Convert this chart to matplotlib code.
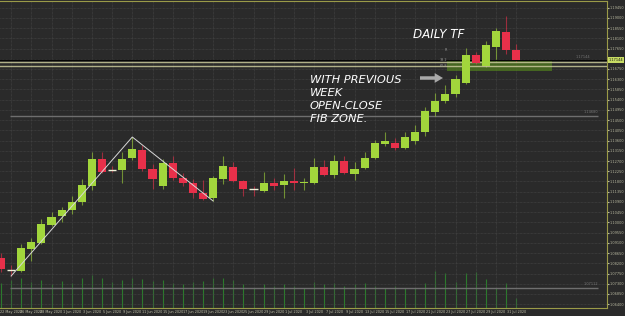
import matplotlib.pyplot as plt
import matplotlib.transforms as mtransforms
import numpy as np

# daily candles, 21 May - 31 Jul 2020
opens = [1.08432, 1.07904, 1.07860, 1.08828, 1.09092, 1.09884, 1.10280, 1.10544, 1.10896, 1.11600,
         1.12788, 1.12304, 1.12304, 1.12832, 1.13184, 1.12348, 1.11600, 1.12612, 1.11952, 1.11732,
         1.11292, 1.11072, 1.11908, 1.12436, 1.11820, 1.11468, 1.11380, 1.11732, 1.11644, 1.11820,
         1.11732, 1.11732, 1.12436, 1.12084, 1.12700, 1.12128, 1.12392, 1.12832, 1.13448, 1.13492,
         1.13272, 1.13580, 1.13976, 1.14856, 1.15340, 1.15648, 1.16132, 1.17364, 1.16880, 1.17716,
         1.18376, 1.17584]
highs = [1.08652, 1.08124, 1.09048, 1.09312, 1.10148, 1.10456, 1.10676, 1.11160, 1.11908, 1.13096,
         1.13096, 1.12480, 1.13096, 1.13756, 1.13404, 1.12568, 1.12788, 1.12920, 1.12172, 1.11908,
         1.11864, 1.12040, 1.12920, 1.12656, 1.11864, 1.11600, 1.12216, 1.11952, 1.12128, 1.12392,
         1.11952, 1.12832, 1.12744, 1.12964, 1.12920, 1.12656, 1.13096, 1.13624, 1.13976, 1.13712,
         1.13976, 1.14284, 1.15076, 1.15692, 1.16044, 1.16484, 1.17672, 1.17496, 1.17980, 1.18552,
         1.19080, 1.17848]
lows = [1.07816, 1.07640, 1.07816, 1.08300, 1.09048, 1.09840, 1.10016, 1.10368, 1.10764, 1.11424,
        1.12172, 1.12216, 1.11732, 1.12744, 1.12260, 1.11468, 1.11468, 1.11864, 1.11600, 1.11072,
        1.10984, 1.10940, 1.11688, 1.11776, 1.11160, 1.11160, 1.11336, 1.11424, 1.11072, 1.11424,
        1.11424, 1.11688, 1.12040, 1.11952, 1.12128, 1.11864, 1.12348, 1.12788, 1.13360, 1.13184,
        1.13228, 1.13448, 1.13800, 1.14680, 1.15252, 1.15516, 1.16088, 1.16968, 1.16836, 1.17100,
        1.17408, 1.17056]
closes = [1.07948, 1.07904, 1.08872, 1.09136, 1.09928, 1.10236, 1.10544, 1.10896, 1.11644, 1.12788,
          1.12216, 1.12304, 1.12788, 1.13228, 1.12348, 1.11908, 1.12612, 1.11952, 1.11732, 1.11292,
          1.11028, 1.11952, 1.12480, 1.11820, 1.11468, 1.11468, 1.11732, 1.11600, 1.11820, 1.11732,
          1.11776, 1.12436, 1.12084, 1.12700, 1.12172, 1.12348, 1.12832, 1.13492, 1.13580, 1.13272,
          1.13756, 1.13976, 1.14900, 1.15340, 1.15648, 1.16308, 1.17364, 1.17012, 1.17804, 1.18420,
          1.17584, 1.17144]
volumes = [100, 112, 120, 104, 112, 96, 108, 100, 120, 132,
           120, 104, 112, 120, 116, 108, 112, 100, 96, 104,
           108, 120, 120, 112, 96, 80, 96, 88, 96, 88,
           80, 104, 96, 100, 88, 96, 100, 88, 80, 88,
           80, 80, 100, 148, 140, 104, 140, 144, 116, 80,
           100, 40]

date_idx = [1, 3, 5, 7, 9, 11, 13, 15, 17, 19, 21, 23, 25, 27, 29, 31, 33, 35, 37, 39, 41, 43, 45, 47, 49, 51]
date_labels = ['22 May 2020', '26 May 2020', '28 May 2020', '1 Jun 2020', '3 Jun 2020', '5 Jun 2020',
               '9 Jun 2020', '11 Jun 2020', '15 Jun 2020', '17 Jun 2020', '19 Jun 2020', '23 Jun 2020',
               '25 Jun 2020', '29 Jun 2020', '1 Jul 2020', '3 Jul 2020', '7 Jul 2020', '9 Jul 2020',
               '13 Jul 2020', '15 Jul 2020', '17 Jul 2020', '21 Jul 2020', '23 Jul 2020', '27 Jul 2020',
               '29 Jul 2020', '31 Jul 2020']

zigzag_idx = [1, 13, 21]
zigzag_px = [1.07640, 1.13756, 1.10940]

zone_top = 1.17144
zone_lines = [1.17056, 1.16880]
zone_bottom = 1.16660
zone_start, zone_end = 44.2, 54.6
grey_levels = [1.14680, 1.07112]

BG = '#2a2a2a'
AXC = '#9a9a48'
UP = '#a2d63c'
DN = '#e8304a'
SMALL = ['Liberation Sans Narrow', 'DejaVu Sans']

fig = plt.figure(figsize=(6.25, 3.16), dpi=100, facecolor=BG)
ax = fig.add_axes([0, 8/316, 607/625, 307/316], facecolor=BG)

o = np.array(opens); c = np.array(closes); h = np.array(highs); l = np.array(lows)
x = np.arange(len(o))
cols = np.where(c > o, UP, DN)

# volume histogram in the bottom strip
ax2 = ax.twinx()
ax2.vlines(x, 0, volumes, color='#2b7a2c', lw=0.8)
ax2.set_ylim(0, 1228)
ax2.axis('off')

ax.set_zorder(ax2.get_zorder() + 1)
ax.patch.set_visible(False)
fig.patches.append(plt.Rectangle((0, 8/316), 607/625, 307/316, transform=fig.transFigure,
                                 facecolor=BG, zorder=-10))

ax.vlines(x, l, h, color=cols, lw=0.8, alpha=0.6, zorder=3)
body = c != o
ax.bar(x[body], np.abs(c - o)[body], bottom=np.minimum(o, c)[body], width=0.8,
       color=cols[body], zorder=4)
ax.hlines(o[~body], x[~body] - 0.4, x[~body] + 0.4, color='#f0f0d8', lw=1, zorder=4)

ax.plot(zigzag_idx, zigzag_px, color='#d8d8d8', lw=0.7, zorder=5)

# fib zone
ax.axhspan(zone_bottom, zone_top, xmin=(zone_start + 0.1) / 60.1, xmax=(zone_end + 0.1) / 60.1,
           color='#4f7a1e', alpha=0.75, lw=0, zorder=2)
ax.axhline(zone_top, color='#050505', lw=1.0, zorder=3)
for z in zone_lines:
    ax.axhline(z, color='#c8c89a', lw=1.0, alpha=0.85, zorder=3)
for g in grey_levels:
    ax.hlines(g, 0.9, 59.1, color='#6e6e6e', lw=1.0, zorder=2)
    ax.text(59.1, g + 0.0007, f'{g:.5f}', fontsize=2.5, color='#777777', ha='right', va='bottom',
            family=SMALL)
ax.text(58.3, zone_top + 0.0005, f'{zone_top:.5f}', fontsize=2.5, color='#777777', ha='right',
        va='bottom', family=SMALL)
for lab, px in [('R', 1.17580), ('38.2', 1.17150), ('61.8', 1.16860)]:
    ax.text(44.2, px, lab, fontsize=2.4, color='#9a9a9a', ha='right', va='center', family=SMALL)

ax.set_xlim(-0.1, 60.0)
ax.set_ylim(1.06232, 1.19740)
ax.set_yticks(np.arange(1.0640, 1.1975, 0.0045))
ax.yaxis.set_major_formatter(plt.FormatStrFormatter('%.5f'))
ax.yaxis.tick_right()
ax.set_xticks(date_idx)
ax.set_xticklabels(date_labels)
ax.tick_params(axis='y', labelsize=2.5, colors='#b8b8a0', length=1.2, pad=0.6)
ax.tick_params(axis='x', labelsize=2.4, colors='#c0c0a8', length=0, pad=1.3)
for t in ax.get_xticklabels() + ax.get_yticklabels():
    t.set_family(SMALL)
ax.grid(True, color='#474747', lw=0.5, ls=(0, (1, 1)))
for s in ['top', 'right', 'bottom']:
    ax.spines[s].set_color(AXC)
    ax.spines[s].set_linewidth(0.8)
ax.spines['left'].set_visible(False)

trans = mtransforms.blended_transform_factory(ax.transAxes, ax.transData)
ax.text(1.003, closes[-1], f'{closes[-1]:.5f}', transform=trans, fontsize=2.5, color='#111111',
        va='center', ha='left', family=SMALL, zorder=10,
        bbox=dict(boxstyle='square,pad=0.3', fc='#c8dc64', ec='none'))

fig.text(413/625, 1 - 34/316, 'DAILY TF', fontsize=8.6, color='white', style='italic',
         family='DejaVu Sans', va='center', ha='left')
fig.text(310/625, 1 - 75/316, 'WITH PREVIOUS\nWEEK\nOPEN-CLOSE\nFIB ZONE.', fontsize=8.2,
         color='white', style='italic', family='DejaVu Sans', va='top', ha='left', linespacing=1.38)
ax.annotate('', xy=(443, 316 - 78), xytext=(420, 316 - 78), xycoords='figure pixels',
            textcoords='figure pixels',
            arrowprops=dict(facecolor='#a8a8a8', edgecolor='none', width=2.5, headwidth=7, headlength=6))

fig.savefig('out.png', dpi=100, facecolor=BG)
